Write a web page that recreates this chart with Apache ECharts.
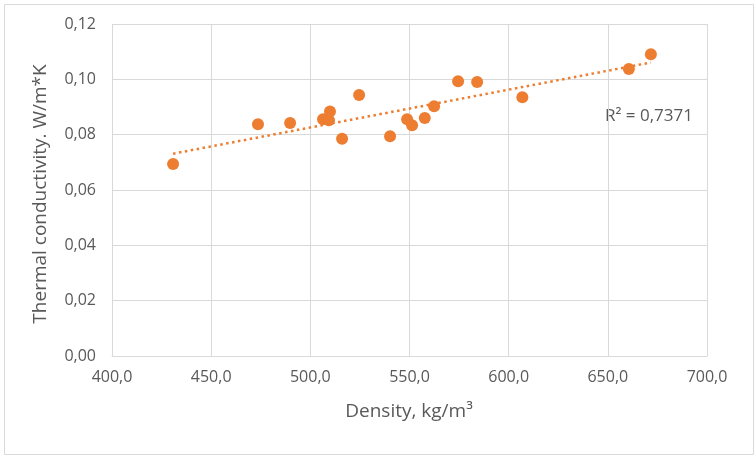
<!DOCTYPE html>
<html><head><meta charset="utf-8">
<script src="https://cdn.jsdelivr.net/npm/echarts@6/dist/echarts.min.js"></script>
<style>html,body{margin:0;padding:0;background:#fff}#c{width:754px;height:455px}</style>
</head><body><div id="c"></div>
<script>
const density = [430.8, 473.6, 489.8, 506.4, 509.4, 509.9, 516.0, 524.6, 540.2, 548.8, 551.3, 557.7, 562.4, 574.5, 584.1, 606.9, 660.6, 671.7];
const conductivity = [0.0694, 0.0838, 0.0842, 0.0856, 0.0852, 0.0884, 0.0785, 0.0943, 0.0794, 0.0856, 0.0834, 0.0860, 0.0903, 0.0993, 0.0990, 0.0935, 0.1037, 0.1091];
const xTitle = 'Density, kg/m³';
const yTitle = 'Thermal conductivity. W/m*K';
const r2Label = 'R² = 0,7371';

const n = density.length;
let sx=0, sy=0, sxx=0, sxy=0;
for (let i=0;i<n;i++){sx+=density[i];sy+=conductivity[i];sxx+=density[i]*density[i];sxy+=density[i]*conductivity[i];}
const slope = (n*sxy - sx*sy)/(n*sxx - sx*sx);
const icpt = (sy - slope*sx)/n;
const xmin = Math.min(...density), xmax = Math.max(...density);
const trend = [[xmin, icpt+slope*xmin],[xmax, icpt+slope*xmax]];

const font = '"Open Sans", "Liberation Sans", sans-serif';
const chart = echarts.init(document.getElementById('c'));
chart.setOption({
  animation:false,
  backgroundColor:'#fff',
  graphic:[
    {type:'rect', left:2, top:2, shape:{width:749, height:450}, style:{fill:'none', stroke:'#d9d9d9', lineWidth:1}},
    {type:'text', x:605, y:116, style:{text:r2Label, fill:'#595959', font:'17px ' + font, textVerticalAlign:'middle'}},
    {type:'text', x:409, y:412, style:{text:xTitle, fill:'#595959', font:'19px ' + font, textAlign:'center', textVerticalAlign:'middle'}},
    {type:'text', x:41, y:194, rotation:Math.PI/2, style:{text:yTitle, fill:'#595959', font:'19px ' + font, textAlign:'center', textVerticalAlign:'middle'}}
  ],
  grid:{left:112, top:24, right:47, bottom:99},
  xAxis:{type:'value', min:400, max:700, interval:50,
    axisLine:{show:true, lineStyle:{color:'#d9d9d9'}}, axisTick:{show:false},
    axisLabel:{color:'#595959', fontSize:16, fontFamily:font, margin:13, formatter:v=>v.toFixed(1).replace('.',',')},
    splitLine:{show:true, lineStyle:{color:'#d9d9d9', width:1}}},
  yAxis:{type:'value', min:0, max:0.12, interval:0.02,
    axisLine:{show:false}, axisTick:{show:false},
    axisLabel:{color:'#595959', fontSize:16, fontFamily:font, margin:16, formatter:v=>v.toFixed(2).replace('.',',')},
    splitLine:{show:true, lineStyle:{color:'#d9d9d9', width:1}}},
  series:[
    {type:'scatter', data:density.map((d,i)=>[d, conductivity[i]]), symbolSize:12,
     itemStyle:{color:'#ED7D31', opacity:1}, z:3},
    {type:'line', data:trend, symbol:'none', silent:true,
     lineStyle:{color:'#ED7D31', width:2.5, type:[2.5,3.5]}, z:2}
  ]
});
</script></body></html>
